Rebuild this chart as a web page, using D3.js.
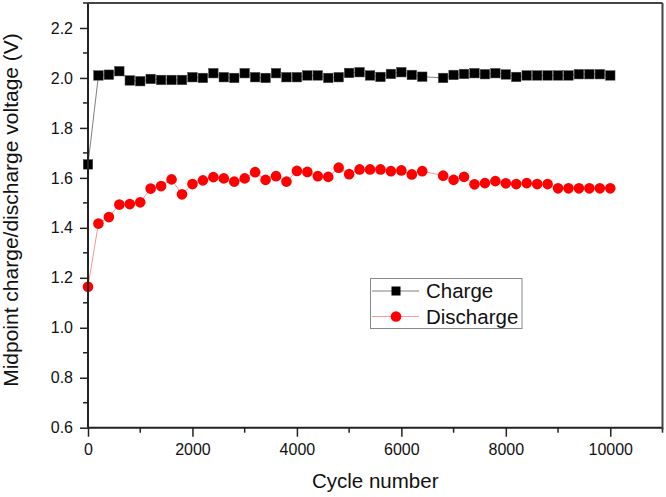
<!DOCTYPE html>
<html><head><meta charset="utf-8">
<script src="https://cdn.jsdelivr.net/npm/d3@7"></script>
<style>body{margin:0;background:#fff}svg{display:block}text{font-family:"Liberation Sans",Arial,sans-serif;fill:#111}</style>
</head><body><svg id="c" width="666" height="497"></svg>
<script>
const cycles = [0,200,400,600,800,1000,1200,1400,1600,1800,2000,2200,2400,2600,2800,3000,3200,3400,3600,3800,4000,4200,4400,4600,4800,5000,5200,5400,5600,5800,6000,6200,6400,6800,7000,7200,7400,7600,7800,8000,8200,8400,8600,8800,9000,9200,9400,9600,9800,10000];
const charge = [1.654,2.010,2.013,2.027,1.990,1.987,1.996,1.992,1.992,1.992,2.003,2.000,2.019,2.003,2.000,2.019,2.003,2.000,2.019,2.003,2.003,2.010,2.010,2.000,2.003,2.020,2.023,2.010,2.004,2.016,2.023,2.012,2.005,2.000,2.012,2.016,2.019,2.015,2.019,2.014,2.004,2.010,2.010,2.010,2.010,2.010,2.015,2.015,2.015,2.010];
const discharge = [1.164,1.417,1.443,1.493,1.495,1.502,1.557,1.567,1.594,1.534,1.575,1.590,1.603,1.598,1.585,1.598,1.623,1.592,1.607,1.585,1.628,1.624,1.607,1.604,1.641,1.615,1.634,1.634,1.634,1.627,1.630,1.614,1.627,1.609,1.592,1.604,1.574,1.579,1.587,1.578,1.575,1.579,1.575,1.575,1.558,1.558,1.558,1.558,1.558,1.558];
const xTicks = [0,2000,4000,6000,8000,10000];
const yTicks = [0.6,0.8,1.0,1.2,1.4,1.6,1.8,2.0,2.2];
const seriesNames = ["Charge","Discharge"];

const svg = d3.select("#c");
const m = {l:88, r:3.5, t:3, b:69.3};
const W = 666, H = 497;
const x = d3.scaleLinear().domain([0,11000]).range([m.l, W-m.r]);
const y = d3.scaleLinear().domain([0.6,2.3]).range([H-m.b, m.t]);
const axisColor = "#222";

// lines
const line = d3.line().x(d=>x(d[0])).y(d=>y(d[1]));
const cData = cycles.map((c,i)=>[c,charge[i]]);
const dData = cycles.map((c,i)=>[c,discharge[i]]);
svg.append("path").attr("d",line(cData)).attr("fill","none").attr("stroke","#808080").attr("stroke-width",1);
svg.append("path").attr("d",line(dData)).attr("fill","none").attr("stroke","#f39a9a").attr("stroke-width",1);

// markers
const sq = 9.5;
svg.append("g").selectAll("rect").data(cData).join("rect")
  .attr("x",d=>x(d[0])-sq/2).attr("y",d=>y(d[1])-sq/2).attr("width",sq).attr("height",sq)
  .attr("fill","#000").attr("stroke","#444").attr("stroke-width",0.5);
svg.append("g").selectAll("circle").data(dData).join("circle")
  .attr("cx",d=>x(d[0])).attr("cy",d=>y(d[1])).attr("r",5.3).attr("fill","#ff0000");

// axes
const xMinor = d3.range(1000,11001,2000);
const yMinor = d3.range(0.7,2.31,0.2);
const gx = svg.append("g").attr("transform",`translate(0,${H-m.b})`);
gx.call(d3.axisBottom(x).tickValues(xTicks).tickSize(9).tickPadding(7).tickFormat(d3.format("d")));
gx.call(g=>g.selectAll(".minor").data(xMinor).join("line").attr("class","minor")
  .attr("x1",d=>x(d)).attr("x2",d=>x(d)).attr("y1",0).attr("y2",5).attr("stroke",axisColor).attr("stroke-width",1.5));
const gy = svg.append("g").attr("transform",`translate(${m.l},0)`);
gy.call(d3.axisLeft(y).tickValues(yTicks).tickSize(8).tickPadding(7).tickFormat(d3.format(".1f")));
gy.call(g=>g.selectAll(".minor").data(yMinor).join("line").attr("class","minor")
  .attr("y1",d=>y(d)).attr("y2",d=>y(d)).attr("x1",0).attr("x2",-5).attr("stroke",axisColor).attr("stroke-width",1.5));
[gx,gy].forEach(g=>{
  g.select(".domain").attr("stroke",axisColor).attr("stroke-width",2);
  g.selectAll(".tick line").attr("stroke",axisColor).attr("stroke-width",1.5);
  g.selectAll(".tick text").attr("font-size",16).attr("fill","#222").style("font-family","'Liberation Sans',Arial,sans-serif");
});
gx.select(".domain").attr("d",`M${m.l},0H${W-m.r}`);
gy.select(".domain").attr("d",`M0,${y(2.3)}V${y(0.6)}`);
// top & right frame
svg.append("line").attr("x1",m.l).attr("x2",W-m.r).attr("y1",y(2.3)).attr("y2",y(2.3)).attr("stroke","#444").attr("stroke-width",2);
svg.append("line").attr("x1",W-m.r).attr("x2",W-m.r).attr("y1",y(2.3)).attr("y2",y(0.6)+2).attr("stroke","#444").attr("stroke-width",2);

// axis titles
svg.append("text").attr("x",(m.l+W-m.r)/2).attr("y",488).attr("text-anchor","middle").attr("font-size",20.5).text("Cycle number");
svg.append("text").attr("transform",`translate(18,${210}) rotate(-90)`).attr("text-anchor","middle").attr("font-size",21)
  .text("Midpoint charge/discharge voltage (V)");

// legend
const lg = svg.append("g");
lg.append("rect").attr("x",370.5).attr("y",278.5).attr("width",151.5).attr("height",50).attr("fill","#fff").attr("stroke","#888").attr("stroke-width",1);
const ly = [291, 316.5];
const lcol = ["#808080","#f39a9a"];
ly.forEach((yy,i)=>{
  lg.append("line").attr("x1",372).attr("x2",419).attr("y1",yy).attr("y2",yy).attr("stroke",lcol[i]).attr("stroke-width",1);
  if(i===0) lg.append("rect").attr("x",396-4.5).attr("y",yy-4.5).attr("width",9).attr("height",9).attr("fill","#000");
  else lg.append("circle").attr("cx",396).attr("cy",yy).attr("r",5.3).attr("fill","#ff0000");
  lg.append("text").attr("x",426).attr("y",yy).attr("dy","0.36em").attr("font-size",20.5).text(seriesNames[i]);
});
</script></body></html>
